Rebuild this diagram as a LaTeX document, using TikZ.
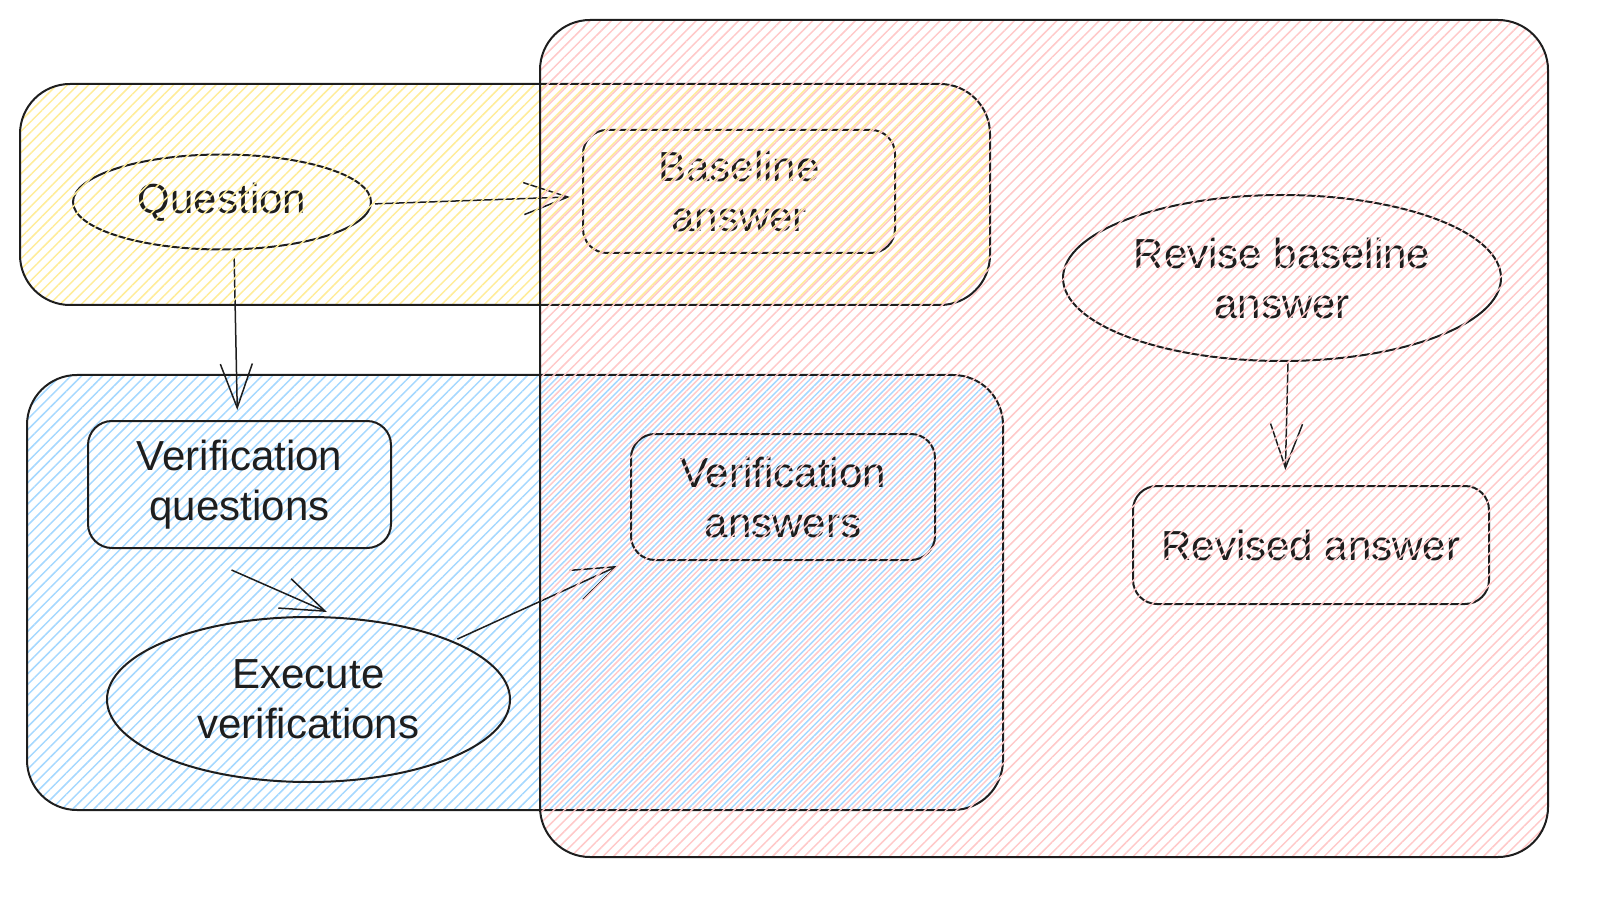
\documentclass[tikz,border=0pt]{standalone}
\usepackage{fontspec}
\setmainfont{Liberation Sans}
\usetikzlibrary{shapes.geometric,arrows.meta,patterns.meta}
\definecolor{pinkc}{HTML}{FFC9C9}
\definecolor{yelc}{HTML}{FFEC99}
\definecolor{bluec}{HTML}{A5D8FF}
\definecolor{inkc}{HTML}{1E1E1E}
\tikzset{
  lbl/.style={font=\fontsize{21}{25}\selectfont, text=inkc, align=center, inner sep=0pt, outer sep=0pt},
  boxn/.style={lbl, draw=inkc, line width=1pt, rectangle, rounded corners=12pt},
  elln/.style={lbl, draw=inkc, line width=1pt, ellipse},
  group/.style={draw=inkc, line width=1pt, rectangle, rounded corners=25pt, inner sep=0pt, outer sep=0pt},
  arr/.style={draw=inkc, line width=0.75pt, -{Straight Barb[length=22pt,width=16pt,line width=0.75pt]}},
}
\begin{document}
\begin{tikzpicture}[x=0.5pt,y=-0.5pt]
% blue group (drawn first)
\node[group, minimum width=488pt, minimum height=217.5pt,
  pattern={Lines[angle=45,distance=3.75pt,line width=0.75pt]}, pattern color=bluec]
  (blue) at (515,592.5) {};
% inner nodes
\node[boxn, minimum width=151.5pt, minimum height=63.5pt] (vq) at (239.5,484.5) {Verification\\questions};
\node[elln, minimum width=201.5pt, minimum height=82.5pt] (ex) at (308.5,699.5) {Execute\\verifications};
\node[boxn, minimum width=152pt, minimum height=63pt] (va) at (783,497) {Verification\\answers};
\node[elln, minimum width=149pt, minimum height=47.5pt] (q) at (222,202) {Question};
\node[boxn, minimum width=156pt, minimum height=61.5pt] (ba) at (739,191.5) {Baseline\\answer};
\node[elln, minimum width=219pt, minimum height=83pt] (rv) at (1282,278) {Revise baseline\\answer};
\node[boxn, minimum width=178pt, minimum height=59pt] (rd) at (1311,545) {Revised answer};
% connectors
\draw[arr, shorten <=2pt, shorten >=6.5pt] ([yshift=-1pt]q.east) -- ([yshift=-2.5pt]ba.west);
\draw[arr, shorten <=4pt, shorten >=5.5pt] ([xshift=6pt]q.south) -- ([xshift=-1pt]vq.north);
\draw[arr] ([shift={(-4pt,-11pt)}]vq.south) -- ([shift={(9.25pt,2.5pt)}]ex.north);
\draw[arr, shorten <=3pt, shorten >=7pt] (ex.22) -- (va.south west);
\draw[arr, shorten <=1pt, shorten >=8pt] ([xshift=3pt]rv.south) -- ([xshift=-13pt]rd.north);
% yellow group
\node[group, minimum width=485pt, minimum height=110.5pt,
  pattern={Lines[angle=45,distance=3.75pt,line width=0.75pt,xshift=1.2pt]}, pattern color=yelc]
  (yel) at (505,194.5) {};
% pink group
\node[group, minimum width=504pt, minimum height=418.5pt,
  pattern={Lines[angle=45,distance=3.75pt,line width=0.75pt,xshift=2.4pt]}, pattern color=pinkc]
  (pink) at (1044,438.5) {};
\pgfresetboundingbox
\path[use as bounding box] (0,0) rectangle (1616,903);
\end{tikzpicture}
\end{document}
